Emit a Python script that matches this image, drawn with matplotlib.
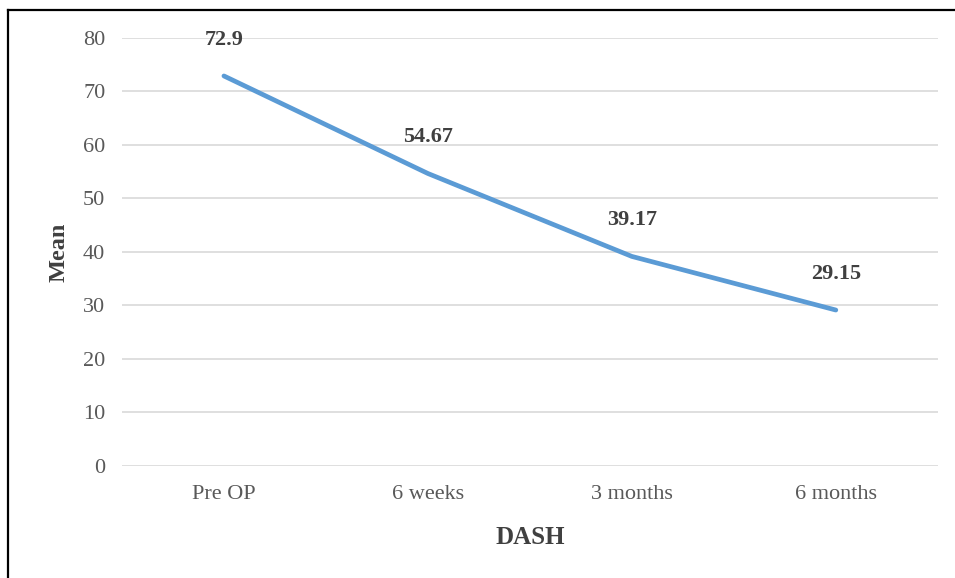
import numpy as np
import matplotlib.pyplot as plt
from matplotlib.lines import Line2D

# DASH mean scores over follow-up
periods = ["Pre OP", "6 weeks", "3 months", "6 months"]
mean_scores = [72.9, 54.67, 39.17, 29.15]
score_labels = ["72.9", "54.67", "39.17", "29.15"]
y_ticks = [0, 10, 20, 30, 40, 50, 60, 70, 80]

plt.rcParams['font.family'] = ['Liberation Serif', 'DejaVu Serif']

fig = plt.figure(figsize=(9.55, 5.78), dpi=100)
ax = fig.add_axes([0.1277, 0.1938, 0.8543, 0.7405])

x = np.arange(len(periods))
ax.plot(x, mean_scores, color="#5B9BD5", linewidth=3.4, solid_capstyle="round")

for xi, yi, lab in zip(x, mean_scores, score_labels):
    ax.annotate(lab, (xi, yi), xytext=(0, 26), textcoords="offset points",
                ha="center", va="center", fontsize=16, fontweight="bold",
                color="#404040", annotation_clip=False)

ax.set_xlim(-0.5, len(periods) - 0.5)
ax.set_ylim(0, 80)
ax.set_yticks(y_ticks)
ax.set_xticks(x)
ax.set_xticklabels(periods)
ax.tick_params(axis="both", length=0, labelsize=16, labelcolor="#595959")
ax.tick_params(axis="y", pad=12)
ax.tick_params(axis="x", pad=13.5)
ax.grid(axis="y", color="#D9D9D9", linewidth=1.2)
ax.set_axisbelow(True)
for s in ax.spines.values():
    s.set_visible(False)

ax.set_xlabel("DASH", fontsize=18, fontweight="bold", color="#404040", labelpad=16)
ax.set_ylabel("Mean", fontsize=17.5, fontweight="bold", color="#404040", labelpad=10)

# outer frame (left and top edges)
fig.add_artist(Line2D([8/955, 8/955], [0, 1 - 10/578], transform=fig.transFigure,
                      color="black", linewidth=1.6))
fig.add_artist(Line2D([8/955, 1], [1 - 10/578, 1 - 10/578], transform=fig.transFigure,
                      color="black", linewidth=1.6))

plt.savefig("out.png", dpi=100)
